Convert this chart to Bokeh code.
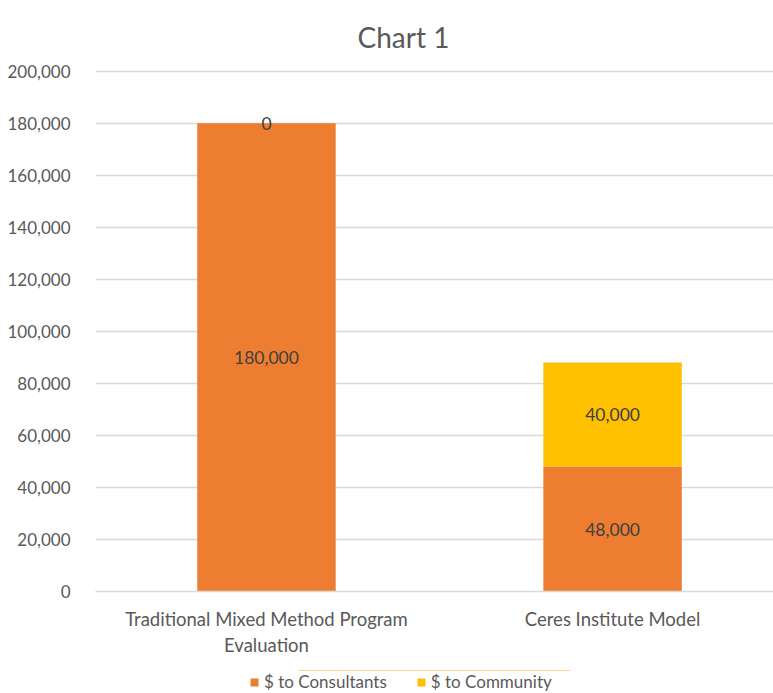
from bokeh.plotting import figure
from bokeh.layouts import column
from bokeh.models import (Range1d, FixedTicker, NumeralTickFormatter, ColumnDataSource,
                          Legend, LegendItem, LabelSet)
from bokeh.core.properties import value
from bokeh.embed import file_html
from bokeh.resources import INLINE

categories = ["Traditional Mixed Method Program\nEvaluation", "Ceres Institute Model"]
consultants = [180000, 48000]
community = [0, 40000]
series_names = ["$ to Consultants", "$ to Community"]
colors = ["#ED7D31", "#FFC000"]
y_ticks = [0, 20000, 40000, 60000, 80000, 100000, 120000, 140000, 160000, 180000, 200000]

FONT = "Lato"

xs = [i + 0.5 for i in range(len(categories))]
comm_top = [a + b for a, b in zip(consultants, community)]

src = ColumnDataSource(dict(
    x=xs, cons_top=consultants, comm_bottom=consultants, comm_top=comm_top,
    cons_mid=[c / 2 for c in consultants],
    comm_mid=[a + b / 2 for a, b in zip(consultants, community)],
    cons_lbl=[f"{v:,}" for v in consultants],
    comm_lbl=[f"{v:,}" for v in community],
))

p = figure(width=773, height=670, output_backend="svg", toolbar_location=None,
           x_range=Range1d(0.006, 1.965), y_range=Range1d(0, 201000),
           min_border_left=95, min_border_right=0, min_border_top=68, min_border_bottom=79,
           outline_line_color=None)

p.title.text = "Chart 1"
p.title.align = "left"
p.title.offset = 262
p.title.vertical_align = "bottom"
p.title.text_font = FONT
p.title.text_font_size = "28px"
p.title.text_font_style = "normal"
p.title.text_color = "#595959"
p.title.standoff = 30

r1 = p.vbar(x="x", bottom=0, top="cons_top", width=0.4, source=src, fill_color=colors[0], line_color=None)
r2 = p.vbar(x="x", bottom="comm_bottom", top="comm_top", width=0.4, source=src, fill_color=colors[1], line_color=None)

for ycol, tcol in (("cons_mid", "cons_lbl"), ("comm_mid", "comm_lbl")):
    ls = LabelSet(x="x", y=ycol, text=tcol, source=src, text_align="center", text_baseline="middle",
                  text_font=value(FONT), text_font_size="17.5px", text_color="#404040")
    p.add_layout(ls)

# axes
p.yaxis.ticker = FixedTicker(ticks=y_ticks)
p.yaxis.formatter = NumeralTickFormatter(format="0,0")
p.yaxis.axis_line_color = None
p.yaxis.major_tick_line_color = None
p.yaxis.minor_tick_line_color = None
p.yaxis.major_label_text_font = FONT
p.yaxis.major_label_text_font_size = "17px"
p.yaxis.major_label_text_color = "#595959"
p.yaxis.major_label_standoff = 19

p.xaxis.ticker = FixedTicker(ticks=xs)
p.xaxis.major_label_overrides = {x: c for x, c in zip(xs, categories)}
p.xaxis.axis_line_color = "#D9D9D9"
p.xaxis.axis_line_width = 1.5
p.xaxis.major_tick_line_color = None
p.xaxis.minor_tick_line_color = None
p.xaxis.major_label_text_font = FONT
p.xaxis.major_label_text_font_size = "18.5px"
p.xaxis.major_label_text_color = "#595959"
p.xaxis.major_label_standoff = 10

p.xgrid.grid_line_color = None
p.ygrid.grid_line_color = "#D9D9D9"
p.ygrid.grid_line_width = 1.5

# legend strip below the chart (its bars lie outside its visible range; only the legend shows)
lg = figure(width=773, height=23, output_backend="svg", toolbar_location=None,
            x_axis_location=None, y_axis_location=None, outline_line_color=None,
            min_border=0, x_range=Range1d(0, 1), y_range=Range1d(-2000000, -1000000))
lg.xgrid.visible = False
lg.ygrid.visible = False
d1 = lg.vbar(x="x", bottom=0, top="cons_top", width=0.4, source=src, fill_color=colors[0], line_color=None)
d2 = lg.vbar(x="x", bottom="comm_bottom", top="comm_top", width=0.4, source=src, fill_color=colors[1], line_color=None)

legend = Legend(items=[LegendItem(label=series_names[0], renderers=[d1]),
                       LegendItem(label=series_names[1], renderers=[d2])],
                orientation="horizontal", location=(154, 1),
                label_text_font=FONT, label_text_font_size="17px", label_text_color="#595959",
                label_height=17, glyph_width=10, glyph_height=10, label_standoff=5, spacing=29,
                border_line_color=None, background_fill_alpha=0, padding=0, margin=0)
lg.add_layout(legend, "center")

layout = column(p, lg, spacing=0)
open("out.html", "w").write(file_html(layout, INLINE))
